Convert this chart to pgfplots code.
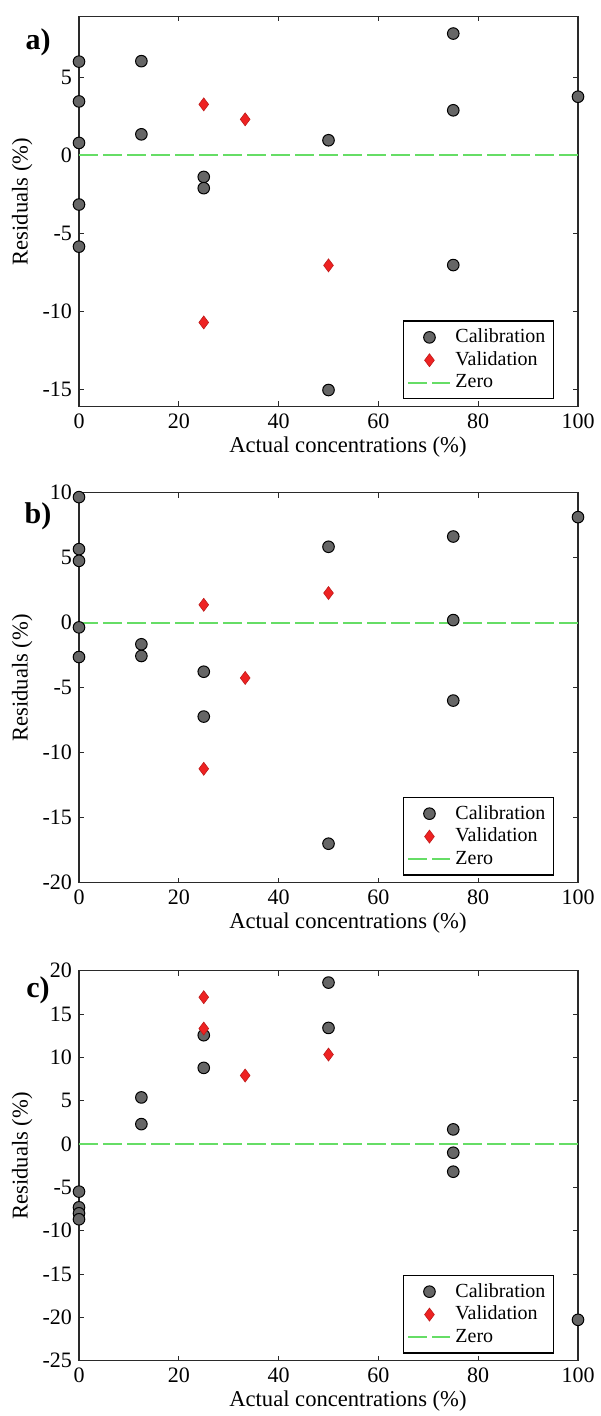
\documentclass[border=0pt]{standalone}
\usepackage{fontspec}
\setmainfont{Liberation Serif}
\usepackage{pgfplots}
\pgfplotsset{compat=1.18}
\definecolor{calgray}{HTML}{666666}
\definecolor{valred}{HTML}{EE2222}
\definecolor{zerogreen}{HTML}{66DD66}
\definecolor{frame}{HTML}{2A2A2A}

\pgfplotsset{
  resid/.style={
    scale only axis, width=249.5pt, height=195pt, anchor=south west,
    xmin=0, xmax=100, xtick={0,20,...,100}, clip=false,
    tick align=inside, major tick length=2.5pt,
    axis line style={frame, line width=0.6pt},
    every tick/.style={frame, line width=0.5pt},
    tick label style={font=\fontsize{11}{13}\selectfont},
    /pgf/number format/assume math mode=true,
    xlabel={Actual concentrations (\%)}, ylabel={Residuals (\%)},
    label style={font=\fontsize{11.3}{13}\selectfont},
    xlabel style={at={(axis description cs:0.539,-0.103)}, anchor=center},
    ylabel style={at={(axis description cs:-0.114,0.525)}, anchor=center},
    legend style={draw=black, line width=0.6pt, fill=white,
      font=\fontsize{10}{12}\selectfont,
      at={(0.952,0.018)}, anchor=south east, row sep=-1pt, inner sep=2pt},
    legend cell align=left,
    legend image code/.code={\draw[mark repeat=2,mark phase=2,#1]
      plot coordinates {(0pt,0pt) (10.5pt,0pt) (21pt,0pt)};},
  },
  cal/.style={only marks, mark=*, mark size=2.9pt,
    mark options={fill=calgray, draw=black, line width=0.5pt}},
  val/.style={only marks, mark=diamond*, mark size=3.25pt,
    mark options={fill=valred, draw=valred!80!black, line width=0.3pt}},
  zer/.style={no marks, zerogreen, line width=1pt, dash pattern=on 9.5pt off 2.5pt},
}

\begin{document}
\begin{tikzpicture}
\path[use as bounding box] (0,-708pt) rectangle (300pt,0pt);

% a)
\begin{axis}[resid, at={(39.5pt,-203.2pt)}, ymin=-16.1, ymax=8.9, ytick={-15,-10,-5,0,5}]
\addplot[cal] coordinates {
  (0,6.0) (0,3.45) (0,0.79) (0,-3.16) (0,-5.86)
  (12.5,6.03) (12.5,1.34) (25,-1.39) (25,-2.11)
  (50,0.96) (50,-15.05) (75,7.8) (75,2.88) (75,-7.04) (100,3.75)};
\addlegendentry{Calibration}
\addplot[val] coordinates {(25,3.26) (33.3,2.3) (50,-7.06) (25,-10.72)};
\addlegendentry{Validation}
\addplot[zer] coordinates {(0,0) (100,0)};
\addlegendentry{Zero}
\end{axis}

% b)
\begin{axis}[resid, at={(39.5pt,-441.35pt)}, ymin=-20, ymax=10, ytick={-20,-15,...,10}]
\addplot[cal] coordinates {
  (0,9.66) (0,5.66) (0,4.76) (0,-0.36) (0,-2.64)
  (12.5,-1.66) (12.5,-2.56) (25,-3.77) (25,-7.22)
  (50,5.84) (50,-17.0) (75,6.63) (75,0.2) (75,-5.99) (100,8.12)};
\addlegendentry{Calibration}
\addplot[val] coordinates {(25,1.38) (50,2.28) (33.3,-4.25) (25,-11.24)};
\addlegendentry{Validation}
\addplot[zer] coordinates {(0,0) (100,0)};
\addlegendentry{Zero}
\end{axis}

% c)
\begin{axis}[resid, at={(39.5pt,-680.35pt)}, ymin=-25, ymax=20, ytick={-25,-20,...,20}]
\addplot[cal] coordinates {
  (0,-5.49) (0,-7.3) (0,-7.99) (0,-8.68)
  (12.5,5.38) (12.5,2.3) (25,12.56) (25,8.79)
  (50,18.63) (50,13.4) (75,1.69) (75,-1.0) (75,-3.19) (100,-20.28)};
\addlegendentry{Calibration}
\addplot[val] coordinates {(25,16.94) (25,13.33) (33.3,7.91) (50,10.33)};
\addlegendentry{Validation}
\addplot[zer] coordinates {(0,0) (100,0)};
\addlegendentry{Zero}
\end{axis}

\node[font=\bfseries\fontsize{15}{15}\selectfont] at (19pt,-21pt) {a)};
\node[font=\bfseries\fontsize{15}{15}\selectfont] at (19pt,-258pt) {b)};
\node[font=\bfseries\fontsize{15}{15}\selectfont] at (19pt,-495pt) {c)};
\end{tikzpicture}
\end{document}
